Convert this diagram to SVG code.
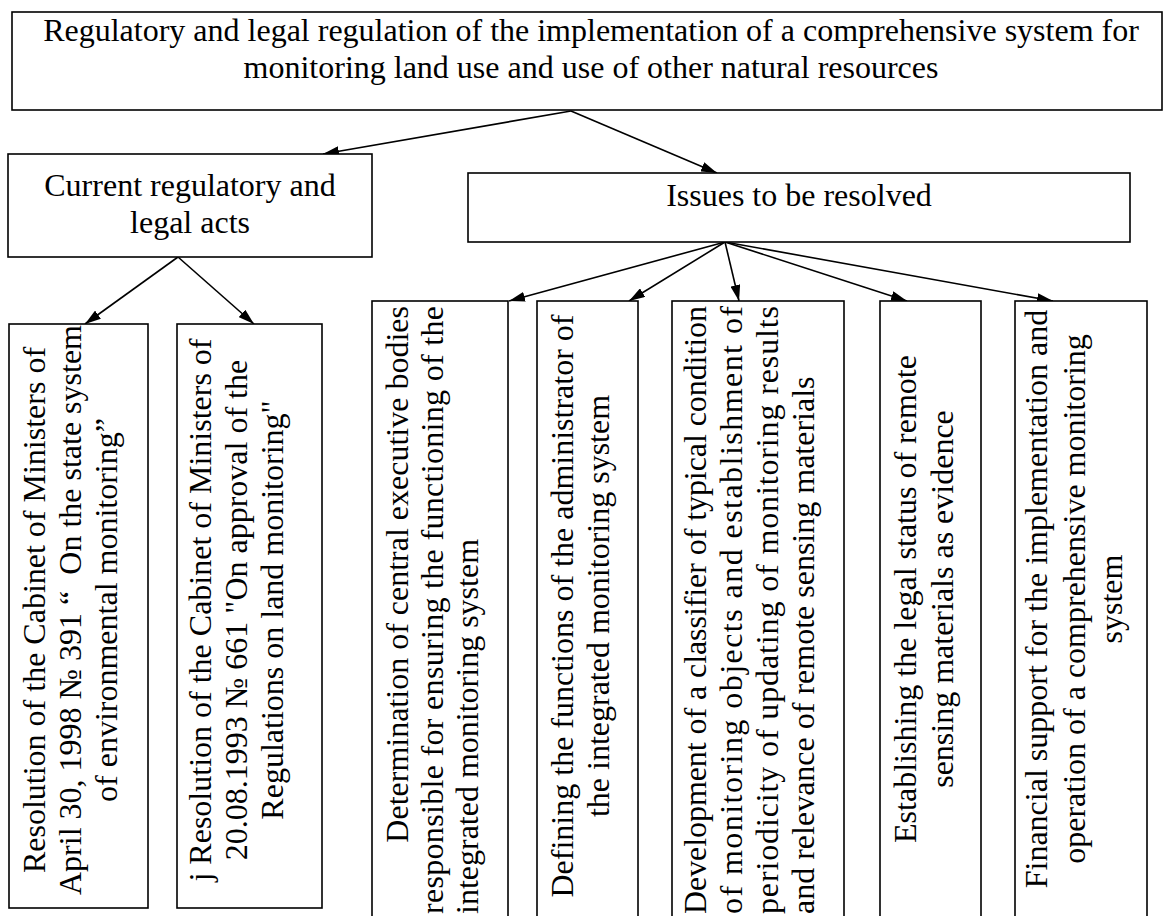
<svg xmlns="http://www.w3.org/2000/svg" width="1163" height="916" viewBox="0 0 1163 916">
<style>
.box{fill:#fff;stroke:#000;stroke-width:1.6}
.t{font-family:"Liberation Serif","Times New Roman",serif;font-size:32px;fill:#000}
.m{text-anchor:middle}
.e{text-anchor:end}
.c{stroke:#000;stroke-width:1.6;fill:none;marker-end:url(#ah)}
</style>
<defs>
<marker id="ah" viewBox="0 0 16 10" markerWidth="16" markerHeight="10" markerUnits="userSpaceOnUse" refX="16" refY="5" orient="auto">
<path d="M0,0 L16,5 L0,10 z" fill="#000"/>
</marker>
</defs>
<rect width="1163" height="916" fill="#fff"/>
<g id="connectors">
<line class="c" x1="571" y1="111" x2="323" y2="154"/>
<line class="c" x1="571" y1="111" x2="717" y2="173"/>
<line class="c" x1="178" y1="257" x2="85" y2="324"/>
<line class="c" x1="178" y1="257" x2="254" y2="324"/>
<line class="c" x1="725" y1="242" x2="509" y2="301"/>
<line class="c" x1="725" y1="242" x2="629" y2="301"/>
<line class="c" x1="725" y1="242" x2="739" y2="301"/>
<line class="c" x1="725" y1="242" x2="907" y2="301"/>
<line class="c" x1="725" y1="242" x2="1053" y2="301"/>
</g>
<g id="root">
<rect class="box" x="12" y="12" width="1150" height="98"/>
<text class="t m" x="591" y="41">Regulatory and legal regulation of the implementation of a comprehensive system for</text>
<text class="t m" x="591" y="78">monitoring land use and use of other natural resources</text>
</g>
<g id="current">
<rect class="box" x="8" y="154" width="364" height="103"/>
<text class="t m" x="190" y="196">Current regulatory and</text>
<text class="t m" x="190" y="233">legal acts</text>
</g>
<g id="issues">
<rect class="box" x="468" y="173" width="662" height="69"/>
<text class="t m" x="799" y="206">Issues to be resolved</text>
</g>
<g id="actA">
<rect class="box" x="9" y="324" width="139" height="584"/>
<g transform="rotate(-90)">
<text class="t m" x="-610" y="45">Resolution of the Cabinet of Ministers of</text>
<text class="t m" x="-610" y="81" xml:space="preserve">April 30, 1998 № 391 “  On the state system</text>
<text class="t m" x="-610" y="117">of environmental monitoring”</text>
</g>
</g>
<g id="actB">
<rect class="box" x="177" y="324" width="145" height="584"/>
<g transform="rotate(-90)">
<text class="t m" x="-610" y="211">j Resolution of the Cabinet of Ministers of</text>
<text class="t m" x="-610" y="247">20.08.1993 № 661 "On approval of the</text>
<text class="t m" x="-610" y="283">Regulations on land monitoring"</text>
</g>
</g>
<g id="issueC">
<rect class="box" x="372" y="301" width="136" height="640"/>
<g transform="rotate(-90)">
<text class="t e" x="-306" y="408">Determination of central executive bodies</text>
<text class="t" x="-914" y="443" textLength="608" lengthAdjust="spacing">responsible for ensuring the functioning of the</text>
<text class="t" x="-914" y="478">integrated monitoring system</text>
</g>
</g>
<g id="issueD">
<rect class="box" x="537" y="301" width="101" height="640"/>
<g transform="rotate(-90)">
<text class="t m" x="-606" y="573">Defining the functions of the administrator of</text>
<text class="t m" x="-606" y="609">the integrated monitoring system</text>
</g>
</g>
<g id="issueE">
<rect class="box" x="672" y="301" width="172" height="640"/>
<g transform="rotate(-90)">
<text class="t" x="-914" y="706" textLength="608" lengthAdjust="spacing">Development of a classifier of typical condition</text>
<text class="t" x="-914" y="742" textLength="608" lengthAdjust="spacing">of monitoring objects and establishment of</text>
<text class="t" x="-914" y="778" textLength="608" lengthAdjust="spacing">periodicity of updating of monitoring results</text>
<text class="t" x="-914" y="814">and relevance of remote sensing materials</text>
</g>
</g>
<g id="issueF">
<rect class="box" x="880" y="301" width="101" height="640"/>
<g transform="rotate(-90)">
<text class="t m" x="-599" y="916">Establishing the legal status of remote</text>
<text class="t m" x="-599" y="953">sensing materials as evidence</text>
</g>
</g>
<g id="issueG">
<rect class="box" x="1015" y="301" width="132" height="640"/>
<g transform="rotate(-90)">
<text class="t m" x="-599" y="1047">Financial support for the implementation and</text>
<text class="t m" x="-599" y="1085">operation of a comprehensive monitoring</text>
<text class="t m" x="-599" y="1122">system</text>
</g>
</g>
</svg>
